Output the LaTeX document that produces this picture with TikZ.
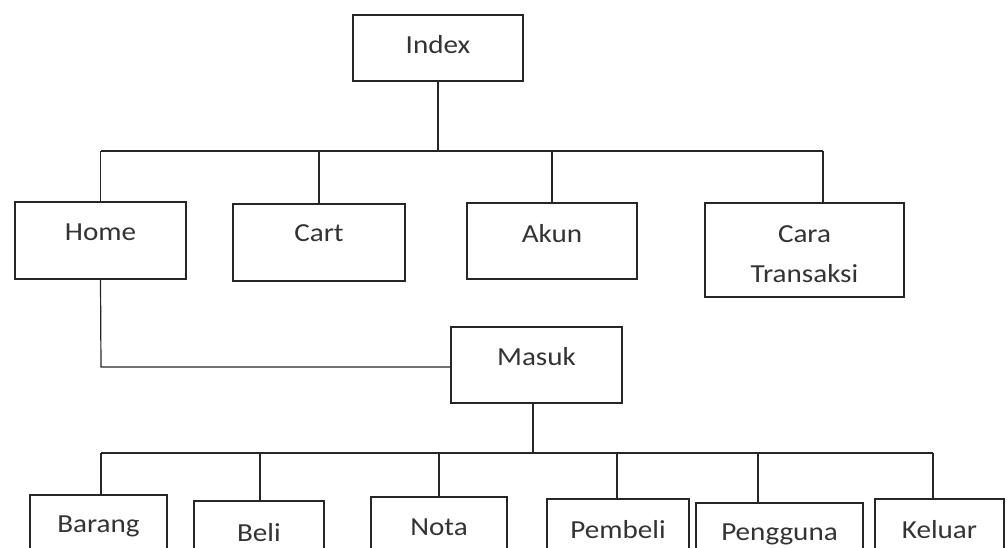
\documentclass[tikz,border=0pt]{standalone}
\usepackage{fontspec}
\setmainfont{Carlito}[FakeStretch=1.12]
\begin{document}
\begin{tikzpicture}[x=1pt,y=-1pt,
  box/.style={draw=black!85,line width=1.4pt,rectangle,inner sep=0pt},
  txt/.style={text=black!80,font=\fontsize{26}{40}\selectfont,align=center,inner sep=0pt},
  wire/.style={draw=black!85,line width=1.2pt}]
\useasboundingbox (0,0) rectangle (1007,548);
\clip (0,0) rectangle (1007,548);
% boxes: center and size
\node[box,minimum width=170,minimum height=66] (index) at (438,48) {};
\node[box,minimum width=171,minimum height=77] (home) at (100.5,240.5) {};
\node[box,minimum width=172,minimum height=77] (cart) at (319,242.5) {};
\node[box,minimum width=170,minimum height=76] (akun) at (552,241) {};
\node[box,minimum width=199,minimum height=94] (cara) at (804.5,250) {};
\node[box,minimum width=171,minimum height=76] (masuk) at (536.5,365) {};
\node[box,minimum width=137,minimum height=110] (barang) at (98.5,550) {};
\node[box,minimum width=130,minimum height=110] (beli) at (259,556) {};
\node[box,minimum width=136,minimum height=110] (nota) at (439,552) {};
\node[box,minimum width=142,minimum height=110] (pembeli) at (618,554) {};
\node[box,minimum width=167,minimum height=110] (pengguna) at (779.5,558) {};
\node[box,minimum width=129,minimum height=110] (keluar) at (939.5,554) {};
% labels
\node[txt] (tindex) at ([yshift=-30pt]index.north) {Index};
\node[txt] (thome) at ([yshift=-31pt]home.north) {Home};
\node[txt] (tcart) at ([yshift=-30pt]cart.north) {Cart};
\node[txt] (takun) at ([yshift=-31pt]akun.north) {Akun};
\node[txt] (tcara) at ([yshift=-52pt]cara.north) {Cara\\Transaksi};
\node[txt] (tmasuk) at ([yshift=-30pt]masuk.north) {Masuk};
\node[txt] (tbarang) at ([yshift=-32pt]barang.north) {Barang};
\node[txt] (tbeli) at ([yshift=-32pt]beli.north) {Beli};
\node[txt] (tnota) at ([yshift=-31pt]nota.north) {Nota};
\node[txt] (tpembeli) at ([yshift=-31pt]pembeli.north) {Pembeli};
\node[txt] (tpengguna) at ([yshift=-32pt]pengguna.north) {Pengguna};
\node[txt] (tkeluar) at ([yshift=-31pt]keluar.north) {Keluar};
% first level bus
\coordinate (bl) at (101,151);
\coordinate (br) at (823,151);
\draw[wire] (bl) -- (br);
\draw[wire] (index.south) -- (index.south |- bl);
\draw[wire] (home.north) -- (home.north |- bl);
\draw[wire] (cart.north) -- (cart.north |- bl);
\draw[wire] (akun.north) -- (akun.north |- bl);
\draw[wire] (br) -- (br |- cara.north);
% home to masuk
\coordinate (hm) at (101,367);
\draw[wire] (home.south) -- (hm) -- (hm -| masuk.west);
% second level bus
\coordinate (ml) at (101,453);
\coordinate (mr) at (933,453);
\coordinate (md) at (533,453);
\draw[wire] (ml) -- (mr);
\draw[wire] (md |- masuk.south) -- (md);
\draw[wire] (ml) -- (ml |- barang.north);
\coordinate (d2) at (260,453);
\draw[wire] (d2) -- (d2 |- beli.north);
\draw[wire] (nota.north) -- (nota.north |- ml);
\coordinate (d4) at (617,453);
\draw[wire] (d4) -- (d4 |- pembeli.north);
\coordinate (d5) at (758,453);
\draw[wire] (d5) -- (d5 |- pengguna.north);
\draw[wire] (mr) -- (mr |- keluar.north);
\end{tikzpicture}
\end{document}
